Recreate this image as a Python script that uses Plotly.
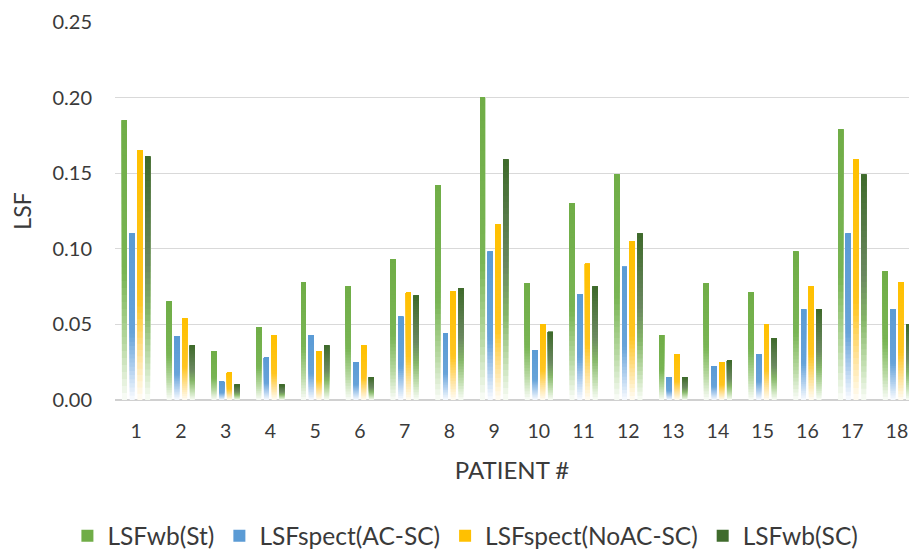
import plotly.graph_objects as go

# Patient numbers (x categories)
patients = [str(i) for i in range(1, 19)]

# Lung shunt fraction per patient for each method
lsf_wb_st = [0.185, 0.065, 0.032, 0.048, 0.078, 0.075, 0.093, 0.142, 0.200,
             0.077, 0.130, 0.149, 0.043, 0.077, 0.071, 0.098, 0.179, 0.085]
lsf_spect_ac_sc = [0.110, 0.042, 0.012, 0.028, 0.043, 0.025, 0.055, 0.044, 0.098,
                   0.033, 0.070, 0.088, 0.015, 0.022, 0.030, 0.060, 0.110, 0.060]
lsf_spect_noac_sc = [0.165, 0.054, 0.018, 0.043, 0.032, 0.036, 0.071, 0.072, 0.116,
                     0.050, 0.090, 0.105, 0.030, 0.025, 0.050, 0.075, 0.159, 0.078]
lsf_wb_sc = [0.161, 0.036, 0.010, 0.010, 0.036, 0.015, 0.069, 0.074, 0.159,
             0.045, 0.075, 0.110, 0.015, 0.026, 0.041, 0.060, 0.149, 0.050]

y_ticks = [0.00, 0.05, 0.10, 0.15, 0.20, 0.25]

# Vertical gradient stops per series: (fraction from bar top, colour)
series = [
    ("LSFwb(St)", lsf_wb_st,
     [(0.0, "#70ad47"), (0.55, "#79b554"), (0.8, "#b8d9a3"), (1.0, "#fbfdf9")]),
    ("LSFspect(AC-SC)", lsf_spect_ac_sc,
     [(0.0, "#5b9bd5"), (0.6, "#67a3d9"), (0.82, "#b5d2ef"), (1.0, "#fafcff")]),
    ("LSFspect(NoAC-SC)", lsf_spect_noac_sc,
     [(0.0, "#ffc000"), (0.6, "#ffc520"), (0.82, "#ffe29a"), (1.0, "#fffdf6")]),
    ("LSFwb(SC)", lsf_wb_sc,
     [(0.0, "#3e6a2b"), (0.45, "#6b8860"), (0.65, "#86b769"), (0.85, "#c6e1b5"), (1.0, "#fafdf8")]),
]

N_SEG = 40


def hex_to_rgb(h):
    h = h.lstrip("#")
    return tuple(int(h[i:i + 2], 16) for i in (0, 2, 4))


def colour_at(stops, t):
    for (t0, c0), (t1, c1) in zip(stops[:-1], stops[1:]):
        if t0 <= t <= t1:
            f = 0 if t1 == t0 else (t - t0) / (t1 - t0)
            a, b = hex_to_rgb(c0), hex_to_rgb(c1)
            r, g, bl = (round(a[i] + (b[i] - a[i]) * f) for i in range(3))
            return f"rgb({r},{g},{bl})"
    return stops[-1][1]


fig = go.Figure()

# Each bar is drawn as overlapping layers: layer k starts at k/N of the bar
# and runs to the top, so the later (higher) layers cover the lower ones and
# build up a smooth bottom-to-top colour gradient without seams.
for name, vals, stops in series:
    for k in range(N_SEG):
        frac = k / N_SEG
        t_mid = 1 - (k + 0.5) / N_SEG  # fraction measured from the top
        fig.add_trace(go.Bar(
            x=patients,
            y=[v * (1 - frac) for v in vals],
            base=[v * frac for v in vals],
            offsetgroup=name,
            legendgroup=name,
            name=name,
            showlegend=(k == N_SEG - 1),
            marker=dict(color=colour_at(stops, t_mid), line=dict(width=0)),
            hoverinfo="skip",
        ))

font_family = "Lato, 'Open Sans', sans-serif"
text_col = "#3a3a3a"

fig.update_layout(
    width=909,
    height=549,
    margin=dict(l=115, r=0, t=22, b=149, autoexpand=False),
    paper_bgcolor="white",
    plot_bgcolor="white",
    barmode="group",
    bargap=0.31,
    bargroupgap=0.35,
    font=dict(family=font_family, color=text_col),
    legend=dict(
        orientation="h",
        xref="container", yref="container",
        x=0.512, xanchor="center",
        y=0.024, yanchor="middle",
        font=dict(size=24.5, color=text_col),
        itemwidth=30,
        traceorder="normal",
    ),
    xaxis=dict(
        type="category",
        range=[-0.47, 17.27],
        showgrid=False,
        showline=False,
        ticks="",
        ticklabelstandoff=17,
        tickfont=dict(size=19.5, color=text_col),
        title=dict(text="PATIENT #", font=dict(size=24, color=text_col), standoff=21),
    ),
    yaxis=dict(
        range=[0, 0.25],
        tickvals=y_ticks,
        tickformat=".2f",
        showgrid=True,
        gridcolor="#d9d9d9",
        gridwidth=1.3,
        zeroline=True,
        zerolinecolor="#d0d0d0",
        zerolinewidth=2,
        showline=False,
        ticks="",
        ticklabelstandoff=22,
        tickfont=dict(size=20, color=text_col),
        title=dict(text="LSF", font=dict(size=23, color=text_col), standoff=14),
    ),
)

fig.write_html("out.html")
